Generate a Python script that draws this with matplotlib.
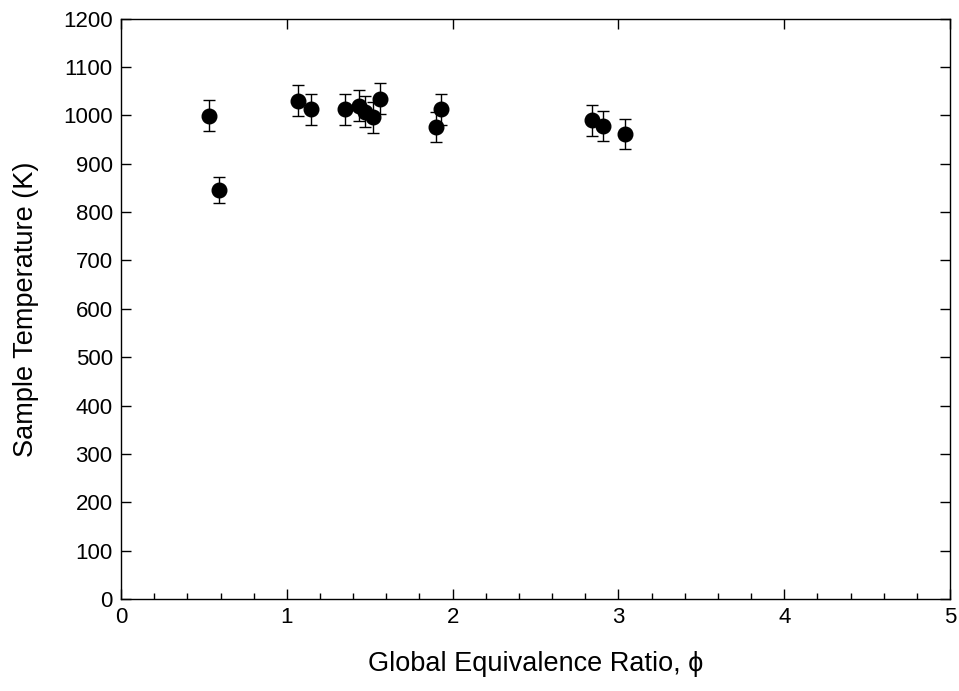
import matplotlib
matplotlib.use("Agg")
import matplotlib.pyplot as plt
from matplotlib.ticker import MultipleLocator

plt.rcParams['font.family'] = ['Liberation Sans', 'DejaVu Sans']

phi = [0.53, 0.59, 1.07, 1.145, 1.35, 1.434, 1.474, 1.522, 1.562, 1.90, 1.93, 2.84, 2.91, 3.04]
temp = [999, 845, 1030, 1013, 1013, 1020, 1008, 996, 1034, 976, 1013, 990, 979, 961]
err = [32, 27, 32, 32, 32, 32, 32, 32, 32, 31, 32, 32, 31, 31]

fig = plt.figure(figsize=(9.59, 6.91), dpi=100)
ax = fig.add_axes([0.1262, 0.1331, 0.8644, 0.8399])

ax.errorbar(phi, temp, yerr=err, fmt='o', color='black', markersize=10.5,
            ecolor='black', elinewidth=1.0, capsize=4, capthick=1.0)

ax.set_xlim(0, 5)
ax.set_ylim(0, 1200)
ax.xaxis.set_major_locator(MultipleLocator(1))
ax.xaxis.set_minor_locator(MultipleLocator(0.2))
ax.yaxis.set_major_locator(MultipleLocator(100))

ax.tick_params(axis='both', which='major', direction='in', length=7, width=1,
               labelsize=16, pad=6)
ax.tick_params(axis='x', which='minor', direction='in', length=4, width=1,
               bottom=True, top=False)
ax.tick_params(axis='x', which='major', top=True)
ax.tick_params(axis='y', which='major', right=True)
for s in ax.spines.values():
    s.set_linewidth(1.0)

ax.set_xlabel('Global Equivalence Ratio, \u03d5', fontsize=19.5, labelpad=16)
ax.set_ylabel('Sample Temperature (K)', fontsize=19.5, labelpad=17)

fig.savefig('out.png', dpi=100)
